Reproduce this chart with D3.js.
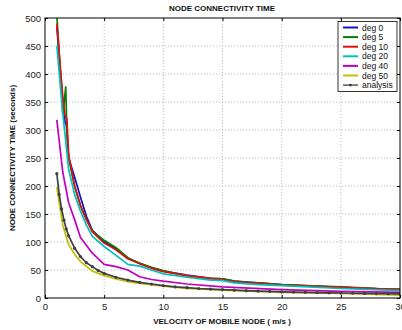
<!DOCTYPE html>
<html><head><meta charset="utf-8">
<script src="https://cdn.jsdelivr.net/npm/d3@7"></script>
<style>body{margin:0;background:#fff}svg{display:block;font-family:"Liberation Sans",Arial,sans-serif}</style>
</head><body><svg id="c" width="402" height="330"></svg>
<script>
const title = "NODE CONNECTIVITY TIME";
const xLabel = "VELOCITY OF MOBILE NODE ( m/s )";
const yLabel = "NODE CONNECTIVITY TIME (seconds)";
const xTicks = [0,5,10,15,20,25,30];
const yTicks = [0,50,100,150,200,250,300,350,400,450,500];
const seriesNames = ["deg 0","deg 5","deg 10","deg 20","deg 40","deg 50","analysis"];
const seriesColors = ["#1010c8","#008000","#e01010","#00c0c0","#c000c0","#c0c000","#404040"];

const deg0X = [1,1.5,1.7,1.8,2,2.5,3,3.5,4,5,6,7,8,9,10,12,14,15,16,18,20,25,30];
const deg0Y = [485,350,313,310,250,216,180,146,121,100,88,71,62,54,48,41,35,34,30,27,24,19,15];
const deg5X = [1,1.5,1.6,1.75,1.85,2,2.5,3,3.5,4,5,6,7,8,9,10,11,12,13,14,15,16,17,18,20,22,25,28,30];
const deg5Y = [505,330,345,377,300,250,200,165,140,120,103,90,72,62,55,49,44,40,37,35,34,30,28,27,24,22,20,17,16];
const deg10X = [1,1.5,1.7,1.85,2,2.5,3,3.5,4,5,6,7,8,9,10,12,14,15,16,18,20,25,30];
const deg10Y = [490,360,325,320,255,200,165,140,118,98,86,70,61,53,47,40,35,33,29,26,23,19,15];
const deg20X = [1,1.5,2,2.5,3,3.5,4,5,6,7,8,9,10,12,14,15,16,18,20,25,30];
const deg20Y = [450,330,230,185,155,130,110,92,76,60,57,50,43,37,32,31,27,24,22,17,13];
const deg40X = [1,1.5,2,2.5,3,4,5,6,7,8,9,10,12,15,20,25,30];
const deg40Y = [318,225,170,140,108,80,60,56,50,38,33,30,25,20,15,12,10];
const deg50X = [1,1.5,2,2.5,3,4,5,6,7,8,10,12,15,20,25,30];
const deg50Y = [198,130,95,78,65,48,40,34,29,26,21,17,14,10,8,5];
const analysisX = [1,1.2,1.4,1.6,1.8,2,2.5,3,3.5,4,4.5,5,6,7,8,9,10,11,12,13,14,15,16,17,18,19,20,21,22,23,24,25,26,27,28,29,30];
const analysisY = [222,185,159,139,123,111,89,74,63,56,49,44,37,32,28,25,22,20,18.5,17,16,15,14,13,12.3,11.7,11.1,10.6,10.1,9.7,9.3,8.9,8.5,8.2,7.9,7.7,7.4];

const seriesX = [deg0X,deg5X,deg10X,deg20X,deg40X,deg50X,analysisX];
const seriesY = [deg0Y,deg5Y,deg10Y,deg20Y,deg40Y,deg50Y,analysisY];

const svg = d3.select("#c");
const L=45, R=400, T=18, B=298;
const x = d3.scaleLinear().domain([0,30]).range([L,R]);
const y = d3.scaleLinear().domain([0,500]).range([B,T]);

svg.append("rect").attr("x",0).attr("y",0).attr("width",402).attr("height",330).attr("fill","#fff");
svg.append("defs").append("clipPath").attr("id","clip").append("rect")
  .attr("x",L).attr("y",T).attr("width",R-L).attr("height",B-T);

// grid
const grid = svg.append("g").attr("stroke","#aaa").attr("stroke-width",0.8).attr("stroke-dasharray","1,2");
xTicks.filter(d=>d>0&&d<30).forEach(d=>grid.append("line").attr("x1",x(d)).attr("x2",x(d)).attr("y1",T).attr("y2",B));
yTicks.filter(d=>d>0&&d<500).forEach(d=>grid.append("line").attr("x1",L).attr("x2",R).attr("y1",y(d)).attr("y2",y(d)));

// axes
const xAxis = d3.axisBottom(x).tickValues(xTicks).tickSizeInner(-3).tickSizeOuter(0).tickPadding(5);
const yAxis = d3.axisLeft(y).tickValues(yTicks).tickSizeInner(-3).tickSizeOuter(0).tickPadding(4);
const gx = svg.append("g").attr("transform",`translate(0,${B})`).call(xAxis);
const gy = svg.append("g").attr("transform",`translate(${L},0)`).call(yAxis);
const gxt = svg.append("g").attr("transform",`translate(0,${T})`).call(d3.axisTop(x).tickValues(xTicks).tickSizeInner(-3).tickSizeOuter(0).tickFormat(""));
const gyr = svg.append("g").attr("transform",`translate(${R},0)`).call(d3.axisRight(y).tickValues(yTicks).tickSizeInner(-3).tickSizeOuter(0).tickFormat(""));
[gx,gy,gxt,gyr].forEach(g=>{g.select(".domain").remove();g.selectAll("line").attr("stroke","#000");
  g.selectAll("text").attr("font-size","9.5px").attr("fill","#222").attr("font-family","Liberation Sans, Arial, sans-serif");});

// series
const plot = svg.append("g").attr("clip-path","url(#clip)");
const line = d3.line().x(d=>x(d[0])).y(d=>y(d[1]));
seriesNames.forEach((n,i)=>{
  const pts = seriesX[i].map((v,j)=>[v,seriesY[i][j]]);
  plot.append("path").attr("d",line(pts)).attr("fill","none").attr("stroke",seriesColors[i])
    .attr("stroke-width", i===6?1.7:1.7).attr("stroke-linejoin","round");
  if(i===6){
    plot.selectAll(null).data(pts).enter().append("circle").attr("cx",d=>x(d[0])).attr("cy",d=>y(d[1]))
      .attr("r",1.6).attr("fill",seriesColors[i]);
  }
});

// frame
svg.append("rect").attr("x",L).attr("y",T).attr("width",R-L).attr("height",B-T).attr("fill","none").attr("stroke","#000").attr("stroke-width",1);

// legend
const lg = svg.append("g");
lg.append("rect").attr("x",338).attr("y",21.5).attr("width",59).attr("height",70).attr("fill","#fff").attr("stroke","#000").attr("stroke-width",0.8);
seriesNames.forEach((n,i)=>{
  const yy = 27.5 + i*9.6;
  lg.append("line").attr("x1",343).attr("x2",358).attr("y1",yy).attr("y2",yy).attr("stroke",seriesColors[i]).attr("stroke-width",i===6?1.3:2);
  if(i===6) lg.append("circle").attr("cx",350.5).attr("cy",yy).attr("r",1.4).attr("fill",seriesColors[i]);
  lg.append("text").attr("x",362).attr("y",yy+3).attr("font-size","8.5px").attr("fill","#111").text(n);
});

// labels
svg.append("text").attr("x",222).attr("y",11).attr("text-anchor","middle").attr("font-size","8px").attr("font-weight","bold").attr("fill","#111").text(title);
svg.append("text").attr("x",222).attr("y",324).attr("text-anchor","middle").attr("font-size","8px").attr("font-weight","bold").attr("fill","#111").text(xLabel);
svg.append("text").attr("transform","translate(15,158) rotate(-90)").attr("text-anchor","middle").attr("font-size","8px").attr("font-weight","bold").attr("fill","#111").text(yLabel);
</script></body></html>
